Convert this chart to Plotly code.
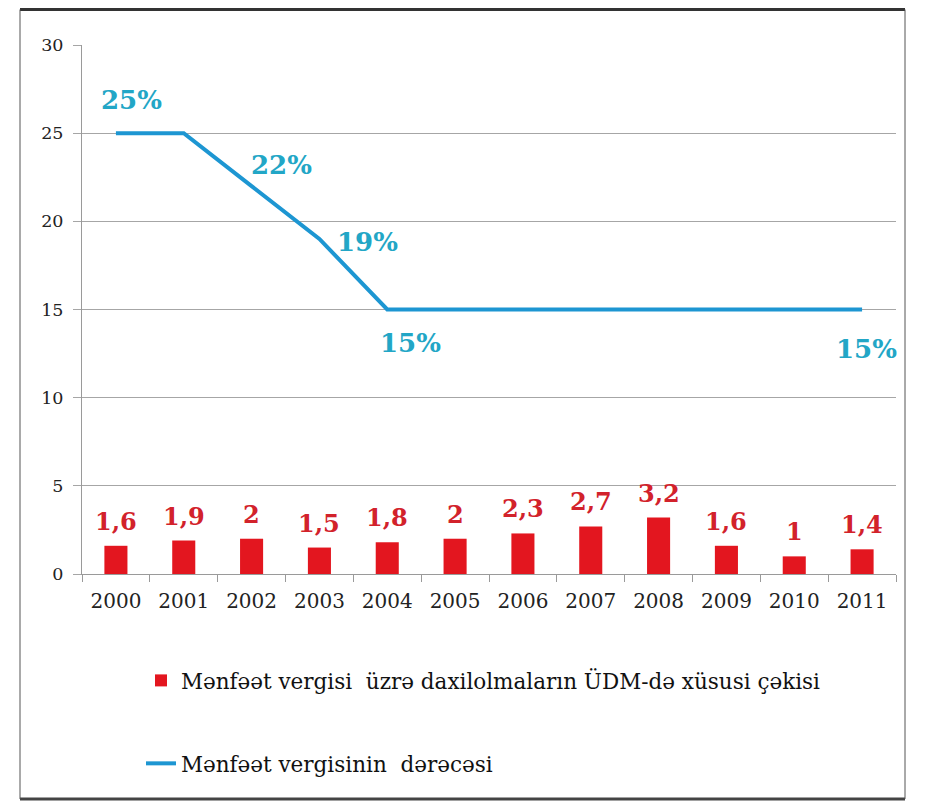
import plotly.graph_objects as go

years = ["2000", "2001", "2002", "2003", "2004", "2005", "2006", "2007", "2008", "2009", "2010", "2011"]
share_gdp = [1.6, 1.9, 2.0, 1.5, 1.8, 2.0, 2.3, 2.7, 3.2, 1.6, 1.0, 1.4]
tax_rate = [25, 25, 22, 19, 15, 15, 15, 15, 15, 15, 15, 15]
bar_name = "Mənfəət vergisi  üzrə daxilolmaların ÜDM-də xüsusi çəkisi"
line_name = "Mənfəət vergisinin  dərəcəsi"
rate_label_idx = [0, 2, 3, 4, 11]

RED = "#E3161F"
BLUE = "#1D96D2"
LBLUE = "#22A6C6"
SERIF = "DejaVu Serif"

def fmt(v):
    return ("%g" % v).replace(".", ",")

fig = go.Figure()
fig.add_trace(go.Bar(
    x=years, y=share_gdp, name=bar_name, legendgroup="a",
    marker=dict(color=RED, line=dict(width=0)),
))
fig.add_trace(go.Scatter(
    x=years, y=tax_rate, name=line_name, legendgroup="b", mode="lines",
    line=dict(color=BLUE, width=4),
))

for i, v in enumerate(share_gdp):
    fig.add_annotation(
        x=i, y=v, text="<b>%s</b>" % fmt(v), showarrow=False,
        yanchor="bottom", yshift=8,
        font=dict(family=SERIF, size=24, color="#D2222B"),
    )

offsets = {0: (16, 33), 2: (30, 21), 3: (48, -3), 4: (23, -33), 11: (4, -39)}
for i in rate_label_idx:
    dx, dy = offsets[i]
    fig.add_annotation(
        x=i, y=tax_rate[i], text="<b>%d%%</b>" % tax_rate[i],
        showarrow=False, xshift=dx, yshift=dy,
        font=dict(family=SERIF, size=26, color=LBLUE),
    )

# frame around the whole chart
frame_l, frame_r = (12 - 74) / 814, (897 - 74) / 814
frame_t, frame_b = (566 - 1.5) / 529, (566 - 791) / 529
fig.add_shape(type="line", xref="paper", yref="paper", x0=frame_l, x1=frame_r, y0=frame_t, y1=frame_t,
              line=dict(color="#333333", width=3))
fig.add_shape(type="line", xref="paper", yref="paper", x0=frame_l, x1=frame_r, y0=frame_b, y1=frame_b,
              line=dict(color="#444444", width=3))
fig.add_shape(type="line", xref="paper", yref="paper", x0=frame_l, x1=frame_l, y0=frame_b, y1=frame_t,
              line=dict(color="#555555", width=1))
fig.add_shape(type="line", xref="paper", yref="paper", x0=frame_r, x1=frame_r, y0=frame_b, y1=frame_t,
              line=dict(color="#555555", width=1))

fig.update_layout(
    width=921, height=796,
    margin=dict(l=74, r=33, t=37, b=230, autoexpand=False),
    paper_bgcolor="white", plot_bgcolor="white",
    bargap=0.66,
    showlegend=True,
    legend=dict(
        xref="container", yref="container", x=0.1444, y=0.181, xanchor="left", yanchor="top",
        font=dict(family=SERIF, size=21.5, color="#111111"),
        traceorder="grouped", tracegroupgap=52, itemwidth=30,
        bgcolor="rgba(0,0,0,0)",
    ),
    xaxis=dict(
        type="category", showgrid=False, showline=True, linecolor="#9A9A9A", linewidth=1,
        ticks="outside", tickson="boundaries", ticklen=7, tickcolor="#9A9A9A",
        tickfont=dict(family=SERIF, size=20, color="#222222"), tickangle=0,
        ticklabelstandoff=9,
        range=[-0.5, len(years) - 0.5],
    ),
    yaxis=dict(
        range=[0, 30], dtick=5, showgrid=True, gridcolor="#A6A6A6", gridwidth=1,
        showline=True, linecolor="#9A9A9A", linewidth=1, zeroline=False,
        ticks="outside", ticklen=8, tickcolor="#A6A6A6",
        tickfont=dict(family=SERIF, size=17.5, color="#222222"),
        ticklabelstandoff=6,
    ),
)

fig.write_html("out.html")
